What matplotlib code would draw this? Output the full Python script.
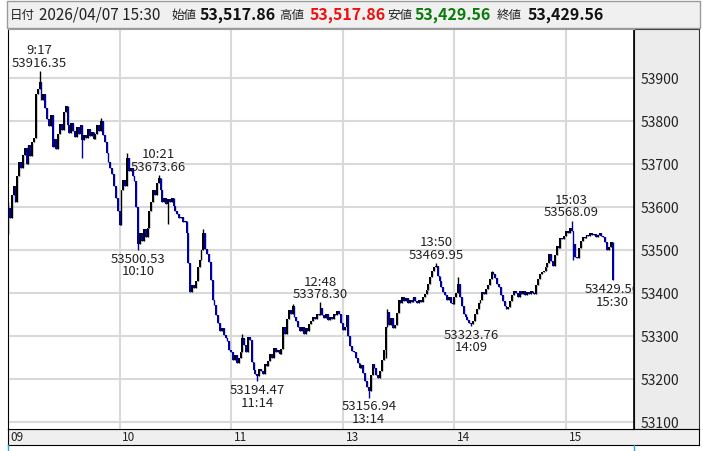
import matplotlib
matplotlib.use('Agg')
import matplotlib.pyplot as plt
from matplotlib.patches import Rectangle
from matplotlib.lines import Line2D
import numpy as np

plt.rcParams['font.family'] = ['Noto Sans CJK JP', 'DejaVu Sans']

# 1分足 終値  前場 9:00-11:29
close_am = [53598, 53575, 53628, 53650, 53612, 53672, 53705, 53690, 53722, 53738,
            53700, 53745, 53718, 53752, 53760, 53862, 53875, 53890, 53848, 53862,
            53830, 53805, 53788, 53815, 53740, 53758, 53735, 53770, 53792, 53780,
            53820, 53835, 53790, 53772, 53795, 53778, 53762, 53785, 53770, 53790,
            53755, 53768, 53760, 53782, 53765, 53775, 53758, 53770, 53790, 53778,
            53800, 53768, 53752, 53725, 53705, 53690, 53678, 53650, 53620, 53590,
            53558, 53640, 53662, 53650, 53715, 53685, 53690, 53672, 53660, 53600,
            53515, 53540, 53522, 53548, 53530, 53552, 53590, 53612, 53640, 53628,
            53655, 53668, 53640, 53612, 53622, 53608, 53618, 53612, 53620, 53602,
            53592, 53585, 53575, 53578, 53566, 53568, 53540, 53470, 53402, 53418,
            53412, 53428, 53460, 53478, 53500, 53540, 53502, 53490, 53472, 53430,
            53385, 53372, 53350, 53330, 53312, 53318, 53302, 53295, 53288, 53268,
            53262, 53245, 53255, 53238, 53250, 53262, 53295, 53280, 53262, 53298,
            53290, 53240, 53222, 53212, 53208, 53224, 53218, 53212, 53236, 53230,
            53242, 53258, 53250, 53272, 53262, 53268, 53258, 53270, 53322, 53305]
# 後場 12:30-15:24 と 15:30
close_pm = [53340, 53360, 53352, 53370, 53345, 53335, 53322, 53313, 53320, 53305,
            53318, 53312, 53328, 53336, 53345, 53340, 53352, 53348, 53365, 53350,
            53342, 53352, 53338, 53345, 53340, 53352, 53348, 53358, 53352, 53330,
            53315, 53322, 53348, 53300, 53278, 53266, 53262, 53250, 53238, 53226,
            53232, 53215, 53196, 53182, 53172, 53210, 53236, 53225, 53210, 53202,
            53218, 53245, 53268, 53320, 53355, 53325, 53342, 53318, 53325, 53354,
            53385, 53378, 53390, 53382, 53388, 53376, 53385, 53380, 53392, 53382,
            53378, 53385, 53380, 53390, 53398, 53408, 53420, 53438, 53452, 53460,
            53462, 53440, 53428, 53414, 53402, 53396, 53385, 53390, 53378, 53375,
            53392, 53400, 53420, 53390, 53370, 53352, 53345, 53338, 53330, 53328,
            53335, 53352, 53362, 53377, 53385, 53402, 53398, 53410, 53418, 53432,
            53448, 53445, 53436, 53420, 53413, 53395, 53382, 53370, 53362, 53368,
            53382, 53395, 53406, 53400, 53392, 53404, 53398, 53406, 53396, 53403,
            53398, 53406, 53400, 53398, 53418, 53432, 53444, 53448, 53452, 53460,
            53470, 53492, 53475, 53462, 53488, 53510, 53505, 53528, 53525, 53532,
            53545, 53540, 53552, 53545, 53515, 53485, 53482, 53505, 53522, 53530,
            53528, 53536, 53532, 53540, 53534, 53538, 53530, 53536, 53540, 53532,
            53530, 53518, 53500, 53508, 53517.86, 53429.56]
first_open = 53540

# 目立つヒゲ
high_pts = {0: 53612, 17: 53916.35, 50: 53807, 64: 53725, 81: 53673.66, 105: 53550,
            126: 53305, 153: 53375, 168: 53378.30, 204: 53362, 230: 53469.95,
            242: 53437, 260: 53451, 303: 53568.09}
low_pts = {0: 53538, 40: 53713, 70: 53500.53, 86: 53560, 134: 53194.47,
           194: 53156.94, 203: 53250, 249: 53323.76, 304: 53478}

# 注記 (位置, 時刻)
marks_high = [(17, '9:17'), (81, '10:21'), (168, '12:48'), (230, '13:50'), (303, '15:03')]
marks_low = [(70, '10:10'), (134, '11:14'), (194, '13:14'), (249, '14:09'), (325, '15:30')]

hour_pos = [0, 60, 120, 180, 240, 300]
hour_labels = ['09', '10', '11', '13', '14', '15']
y_ticks = [53100, 53200, 53300, 53400, 53500, 53600, 53700, 53800, 53900]

c = np.array(close_am + close_pm, dtype=float)
o = np.concatenate([[first_open], c[:-1]])
h = np.maximum(o, c)
l = np.minimum(o, c)
for k, v in high_pts.items():
    h[k] = max(h[k], v)
for k, v in low_pts.items():
    l[k] = min(l[k], v)
x = np.arange(len(c))

W, H = 703, 451


def box(x0, y0, x1, y1):
    return [x0 / W, 1 - y1 / H, (x1 - x0) / W, (y1 - y0) / H]


fig = plt.figure(figsize=(W / 100, H / 100), dpi=100)

# ヘッダー
fig.patches.append(Rectangle((7 / W, 1 - 28 / H), 693 / W, 27 / H, transform=fig.transFigure,
                             facecolor='#f0f0f0', edgecolor='#9a9a9a', lw=1))
hy = 1 - 15 / H
fig.text(10 / W, hy, '日付', fontsize=9, color='#222', va='center')
fig.text(39 / W, hy, '2026/04/07 15:30', fontsize=11, color='#222', va='center')
items = [('始値', o[-1], '#111'), ('高値', h[-1], '#ee1111'), ('安値', l[-1], '#0a7a0a'), ('終値', c[-1], '#111')]
xs = [(171, 200), (279, 310), (387, 415), (497, 528)]
for (lab, val, col), (xl, xv) in zip(items, xs):
    fig.text(xl / W, hy, lab, fontsize=9, color='#222', va='center')
    fig.text(xv / W, hy, f'{val:,.2f}', fontsize=11.5, color=col, va='center', fontweight='bold')

# 右の価格欄
pan = fig.add_axes(box(634, 29, 699, 429), zorder=0)
pan.set_facecolor('#ececec')
pan.set_xticks([])
pan.set_yticks([])
for s in pan.spines.values():
    s.set_color('#333')

# 下の時間欄
strip = fig.add_axes(box(8, 429, 699, 445))
strip.set_facecolor('#efefef')
strip.set_xlim(0, (699 - 8) / 1.86)
strip.set_ylim(0, 1)
strip.set_xticks([])
strip.set_yticks([])
for s in strip.spines.values():
    s.set_color('black')
for p, t in zip(hour_pos, hour_labels):
    strip.text(p + 1.5, 0.45, t, fontsize=8.5, color='#222', va='center', ha='left')

# メインチャート
ax = fig.add_axes(box(8, 29, 634, 429), zorder=1)
ax.set_facecolor('white')
ax.set_xlim(0, (634 - 8) / 1.86)
ax.set_ylim(53084, 54014)
for p in hour_pos[1:]:
    ax.axvline(p, color='#d9d9d9', lw=1.5, zorder=0)
for yv in y_ticks:
    ax.axhline(yv, color='#d9d9d9', lw=1.5, zorder=0)

cols = np.where(c >= o, '#000000', '#0000a0')
ax.vlines(x, l, h, colors=cols, lw=1.0, zorder=2)
ax.bar(x, np.maximum(np.abs(c - o), 2), bottom=np.minimum(o, c), width=1.0,
       color=cols, lw=0, zorder=3)

for i, t in marks_high:
    ax.annotate(f'{t}\n{h[i]:.2f}', (i, h[i]), xytext=(0, 1), textcoords='offset points',
                ha='center', va='bottom', fontsize=9.5, linespacing=0.95, color='#222',
                clip_on=True)
for i, t in marks_low:
    ax.annotate(f'{l[i]:.2f}\n{t}', (i, l[i]), xytext=(0, -2), textcoords='offset points',
                ha='center', va='top', fontsize=9.5, linespacing=0.95, color='#222',
                clip_on=True)

ax.set_xticks([])
ax.yaxis.tick_right()
ax.set_yticks(y_ticks)
ax.set_yticklabels([str(v) for v in y_ticks])
ax.tick_params(axis='y', length=0, pad=4.5, labelsize=10, labelcolor='#222')
ax.spines['left'].set_color('black')
ax.spines['right'].set_color('black')
ax.spines['right'].set_linewidth(1.2)
ax.spines['bottom'].set_color('black')
ax.spines['top'].set_color('#a0a0a0')

fig.add_artist(Line2D([8 / W, 8 / W], [0, 6 / H], color='#22aadd', lw=1))
fig.add_artist(Line2D([634 / W, 634 / W], [0, 6 / H], color='#22aadd', lw=1))

fig.savefig('out.png', dpi=100)
